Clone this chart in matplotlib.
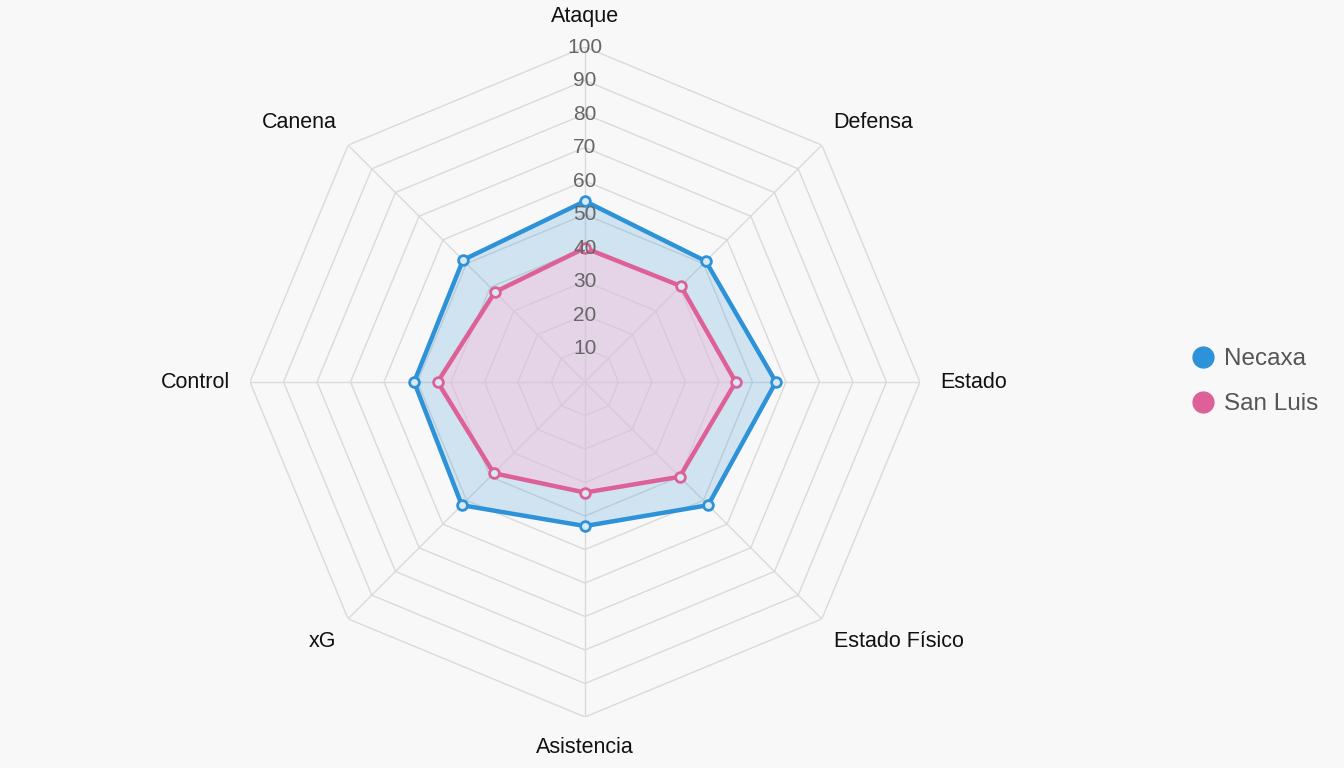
import numpy as np
import matplotlib
matplotlib.use("Agg")
import matplotlib.pyplot as plt
from matplotlib.lines import Line2D

plt.rcParams['font.family'] = ['Liberation Sans', 'DejaVu Sans']

categories = ["Ataque", "Defensa", "Estado", "Estado Físico", "Asistencia", "xG", "Control", "Canena"]
necaxa = [54, 51, 57, 52, 43, 52, 51, 51.5]
san_luis = [40, 40.5, 45, 40, 33, 38.5, 44, 38]
ring_levels = [10, 20, 30, 40, 50, 60, 70, 80, 90, 100]
series_names = ["Necaxa", "San Luis"]

blue = "#2e92d8"
pink = "#dd6198"
bg = "#f8f8f8"

fig = plt.figure(figsize=(13.44, 7.68), dpi=100, facecolor=bg)
ax = fig.add_axes([0.186, 0.0664, 0.4985, 0.8724], polar=True)
ax.set_facecolor("none")
ax.set_theta_offset(np.pi / 2)
ax.set_theta_direction(-1)
ax.set_ylim(0, 100)
ax.grid(False)
ax.spines["polar"].set_visible(False)
ax.set_xticks([])
ax.set_yticks([])

n = len(categories)
angles = np.linspace(0, 2 * np.pi, n, endpoint=False)
closed = np.concatenate([angles, angles[:1]])

# polygon grid
for lv in ring_levels:
    ax.plot(closed, [lv] * (n + 1), color="#dadada", lw=1.0, zorder=1)
for a in angles:
    ax.plot([a, a], [0, 100], color="#dadada", lw=1.0, zorder=1)

# series
for vals, col, fill_col, falpha in [(necaxa, blue, blue, 0.2), (san_luis, pink, "#fbc5df", 0.5)]:
    v = np.concatenate([vals, vals[:1]])
    ax.fill(closed, v, color=fill_col, alpha=falpha, zorder=2, lw=0)
    ax.plot(closed, v, color=col, lw=3.2, zorder=3)
    ax.plot(angles, vals, "o", ms=7, mfc="#d8e8f4", mec=col, mew=2.0, zorder=4)

# ring tick labels
for lv in ring_levels:
    ax.text(0, lv, str(lv), ha="center", va="center", fontsize=15, color="#666666", zorder=5)

# category labels
align = [("center", "bottom"), ("left", "bottom"), ("left", "center"), ("left", "top"),
         ("center", "top"), ("right", "top"), ("right", "center"), ("right", "bottom")]
for a, lab, (ha, va) in zip(angles, categories, align):
    r = 106 if ha == "center" or va == "center" else 105
    ax.text(a, r, lab, ha=ha, va=va, fontsize=15.5, color="#111111", clip_on=False)

handles = [Line2D([0], [0], marker="o", ls="none", ms=15, mfc=blue, mec=blue),
           Line2D([0], [0], marker="o", ls="none", ms=15, mfc=pink, mec=pink)]
leg = fig.legend(handles, series_names, loc="center left", bbox_to_anchor=(0.87, 0.503),
                 frameon=False, fontsize=17.5, handletextpad=0.35, labelspacing=0.95,
                 handlelength=1.0)
for t in leg.get_texts():
    t.set_color("#555555")

fig.savefig("out.png", dpi=100, facecolor=bg)
